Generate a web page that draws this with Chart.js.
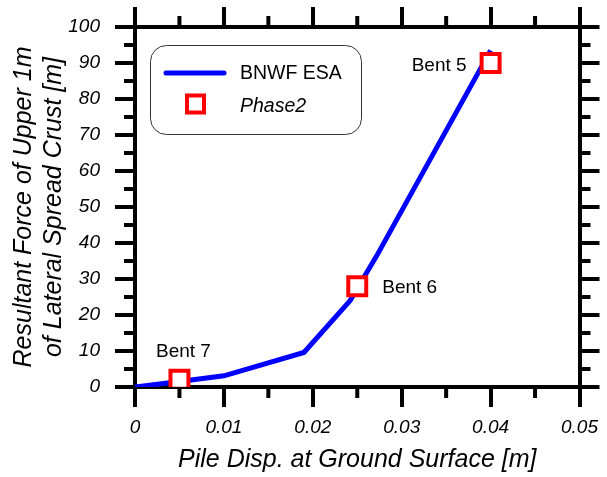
<!DOCTYPE html>
<html>
<head>
<meta charset="utf-8">
<script src="https://cdn.jsdelivr.net/npm/chart.js@4/dist/chart.umd.min.js"></script>
<style>
  html, body { margin: 0; padding: 0; background: #fff; }
  #wrap { width: 607px; height: 477px; position: relative; }
</style>
</head>
<body>
<div id="wrap"><canvas id="c" width="607" height="477"></canvas></div>
<script>
// ---- data ----
const dispESA   = [0, 0.005, 0.01, 0.019, 0.0242, 0.0272, 0.04];
const forceESA  = [0, 1.5, 3.1, 9.6, 24, 36.5, 93.5];
const dispPhase2  = [0.005, 0.025, 0.04];
const forcePhase2 = [2, 28, 90];
const bentLabels  = ['Bent 7', 'Bent 6', 'Bent 5'];
const xTickLabels = ['0', '0.01', '0.02', '0.03', '0.04', '0.05'];
const yTickLabels = ['0', '10', '20', '30', '40', '50', '60', '70', '80', '90', '100'];
const seriesNames = ['BNWF ESA', 'Phase2'];
const xTitle = 'Pile Disp. at Ground Surface [m]';
const yTitle = ['Resultant Force of Upper 1m', 'of Lateral Spread Crust [m]'];

const FONT = "'Liberation Sans', Arial, sans-serif";

const minorTicks = {
  id: 'minorTicks',
  afterDraw(chart) {
    const ctx = chart.ctx, a = chart.chartArea;
    const x = chart.scales.x, y = chart.scales.y;
    const L = 11;
    ctx.save();
    ctx.strokeStyle = '#000';
    ctx.lineWidth = 4;
    ctx.beginPath();
    for (let i = 0; i < xTickLabels.length - 1; i++) {
      const v = (i + 0.5) * 0.01;
      const px = x.getPixelForValue(v);
      ctx.moveTo(px, a.bottom); ctx.lineTo(px, a.bottom + L);
      ctx.moveTo(px, a.top); ctx.lineTo(px, a.top - L);
    }
    for (let i = 0; i < yTickLabels.length - 1; i++) {
      const v = (i + 0.5) * 10;
      const py = y.getPixelForValue(v);
      ctx.moveTo(a.left, py); ctx.lineTo(a.left - L, py);
      ctx.moveTo(a.right, py); ctx.lineTo(a.right + L, py);
    }
    ctx.stroke();
    ctx.restore();
  }
};

const annotations = {
  id: 'annotations',
  afterDatasetsDraw(chart) {
    const ctx = chart.ctx;
    const x = chart.scales.x, y = chart.scales.y;
    ctx.save();
    ctx.fillStyle = '#000';
    ctx.font = '19px ' + FONT;
    ctx.textBaseline = 'middle';
    // Bent 7: above marker, centred
    let px = x.getPixelForValue(dispPhase2[0]), py = y.getPixelForValue(forcePhase2[0]);
    ctx.textAlign = 'center';
    ctx.fillText(bentLabels[0], px + 4, py - 28);
    // Bent 6: right of marker
    px = x.getPixelForValue(dispPhase2[1]); py = y.getPixelForValue(forcePhase2[1]);
    ctx.textAlign = 'left';
    ctx.fillText(bentLabels[1], px + 25, py + 2);
    // Bent 5: left of marker
    px = x.getPixelForValue(dispPhase2[2]); py = y.getPixelForValue(forcePhase2[2]);
    ctx.textAlign = 'right';
    ctx.fillText(bentLabels[2], px - 24, py + 3);

    // legend box
    const a = chart.chartArea;
    const bx = a.left + 15.5, by = a.top + 18.5, bw = 211, bh = 89, r = 16;
    ctx.beginPath();
    ctx.roundRect(bx, by, bw, bh, r);
    ctx.lineWidth = 1;
    ctx.strokeStyle = '#333';
    ctx.stroke();
    // line entry
    const ds0 = chart.data.datasets.find(d => d.label === seriesNames[0]);
    const ds1 = chart.data.datasets.find(d => d.label === seriesNames[1]);
    ctx.beginPath();
    ctx.moveTo(a.left + 31, a.top + 46);
    ctx.lineTo(a.left + 89, a.top + 46);
    ctx.strokeStyle = ds0.borderColor;
    ctx.lineWidth = ds0.borderWidth;
    ctx.lineCap = 'round';
    ctx.stroke();
    ctx.fillStyle = '#000';
    ctx.textAlign = 'left';
    ctx.font = '19.5px ' + FONT;
    ctx.fillText(ds0.label, a.left + 105, a.top + 47);
    // marker entry
    ctx.lineCap = 'butt';
    ctx.fillStyle = '#fff';
    ctx.strokeStyle = ds1.borderColor;
    ctx.lineWidth = ds1.borderWidth;
    const mx = a.left + 60.5, my = a.top + 77;
    ctx.beginPath();
    ctx.rect(mx - 8.5, my - 8.5, 17, 17);
    ctx.fill(); ctx.stroke();
    ctx.fillStyle = '#000';
    ctx.font = 'italic 19.5px ' + FONT;
    ctx.fillText(ds1.label, a.left + 105, a.top + 80);
    ctx.restore();
  }
};

const gridOpts = { display: true, drawOnChartArea: false, drawTicks: true, tickLength: 20, color: '#000', lineWidth: 4 };
const borderOpts = { display: true, color: '#000', width: 4 };

new Chart(document.getElementById('c'), {
  type: 'scatter',
  data: {
    datasets: [
      {
        label: seriesNames[1],
        data: dispPhase2.map((v, i) => ({ x: v, y: forcePhase2[i] })),
        showLine: false,
        pointStyle: 'rect',
        pointRadius: 12.7,
        pointHoverRadius: 12.7,
        pointBackgroundColor: '#fff',
        pointBorderColor: '#ff0000',
        pointBorderWidth: 4,
        borderColor: '#ff0000',
        borderWidth: 4,
        order: 0
      },
      {
        label: seriesNames[0],
        data: dispESA.map((v, i) => ({ x: v, y: forceESA[i] })),
        showLine: true,
        borderColor: '#0000ff',
        borderWidth: 5,
        pointRadius: 0,
        pointHoverRadius: 0,
        fill: false,
        tension: 0,
        order: 1
      }
    ]
  },
  options: {
    responsive: false,
    animation: false,
    events: [],
    layout: { padding: 0 },
    plugins: { legend: { display: false }, tooltip: { enabled: false } },
    scales: {
      x: {
        type: 'linear', position: 'bottom', min: 0, max: 0.05,
        grid: gridOpts, border: borderOpts,
        ticks: {
          stepSize: 0.01, padding: 9, color: '#000',
          font: { family: FONT, size: 19, style: 'italic' },
          callback: (v, i) => xTickLabels[i]
        },
        title: {
          display: true, text: xTitle, color: '#000',
          font: { family: FONT, size: 25, style: 'italic', lineHeight: 1.2 },
          padding: { top: 0, bottom: 2 }
        },
        afterFit: s => { s.height = 90; }
      },
      x2: {
        type: 'linear', position: 'top', min: 0, max: 0.05,
        grid: gridOpts, border: borderOpts,
        ticks: { stepSize: 0.01, display: false },
        afterFit: s => { s.height = 27; }
      },
      y: {
        type: 'linear', position: 'left', min: 0, max: 100,
        grid: gridOpts, border: borderOpts,
        ticks: {
          stepSize: 10, padding: 15, color: '#000',
          font: { family: FONT, size: 19, style: 'italic' },
          callback: (v, i) => yTickLabels[i]
        },
        title: {
          display: true, text: yTitle, color: '#000',
          font: { family: FONT, size: 25, style: 'italic', lineHeight: 1.2 },
          padding: { top: 9, bottom: 0 }
        },
        afterFit: s => { s.width = 135; }
      },
      y2: {
        type: 'linear', position: 'right', min: 0, max: 100,
        grid: gridOpts, border: borderOpts,
        ticks: { stepSize: 10, display: false },
        afterFit: s => { s.width = 22; }
      }
    }
  },
  plugins: [minorTicks, annotations]
});
</script>
</body>
</html>
